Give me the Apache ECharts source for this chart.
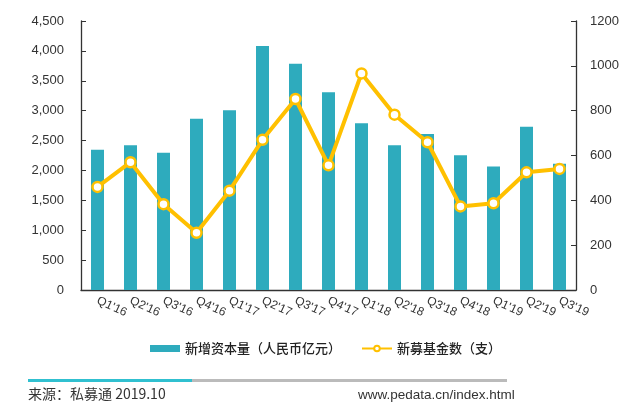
<!DOCTYPE html>
<html><head><meta charset="utf-8">
<script src="https://cdn.jsdelivr.net/npm/echarts@6/dist/echarts.min.js"></script>
<style>html,body{margin:0;padding:0;background:#fff}#c{width:638px;height:415px}</style>
</head><body><div id="c"></div>
<script>
const categories = ["Q1'16","Q2'16","Q3'16","Q4'16","Q1'17","Q2'17","Q3'17","Q4'17","Q1'18","Q2'18","Q3'18","Q4'18","Q1'19","Q2'19","Q3'19"];
const capitalValues = [2345, 2420, 2295, 2865, 3005, 4080, 3785, 3310, 2790, 2420, 2610, 2255, 2065, 2730, 2110];
const fundCounts = [460, 570, 383, 255, 443, 670, 852, 556, 966, 782, 659, 373, 387, 525, 540];
const leftTicks = {min: 0, max: 4500, interval: 500};
const rightTicks = {min: 0, max: 1200, interval: 200};
const seriesNames = ['新增资本量（人民币亿元）', '新募基金数（支）'];

const teal = '#2eabbd', gold = '#ffc000', axisC = '#333';
const chart = echarts.init(document.getElementById('c'), null, {renderer: 'canvas'});
const fontF = 'Liberation Sans, Arial, sans-serif';
chart.setOption({
  animation: false,
  grid: {left: 81, right: 62, top: 21, bottom: 125},
  legend: {
    top: 337, left: 145, itemGap: 20,
    textStyle: {fontFamily: 'Noto Sans CJK SC', fontSize: 13, color: '#222', fontWeight: 500},
    data: [
      {name: seriesNames[0], icon: 'rect', itemStyle: {color: teal}},
      {name: seriesNames[1]}
    ],
    itemWidth: 30, itemHeight: 7
  },
  xAxis: {
    type: 'category', data: categories,
    axisLine: {lineStyle: {color: axisC, width: 1.3}},
    axisTick: {inside: true, length: 5, lineStyle: {color: axisC}},
    axisLabel: {interval: 0, rotate: -25, color: '#333', fontSize: 12, fontFamily: fontF, margin: 10}
  },
  yAxis: [
    {type: 'value', min: leftTicks.min, max: leftTicks.max, interval: leftTicks.interval,
     splitLine: {show: false},
     axisLine: {show: true, lineStyle: {color: axisC, width: 1.3}},
     axisTick: {show: true, inside: true, length: 5, lineStyle: {color: axisC}},
     axisLabel: {color: '#333', fontSize: 13, fontFamily: fontF, margin: 17,
       formatter: v => v.toLocaleString('en-US')}},
    {type: 'value', min: rightTicks.min, max: rightTicks.max, interval: rightTicks.interval,
     splitLine: {show: false},
     axisLine: {show: true, lineStyle: {color: axisC, width: 1.3}},
     axisTick: {show: true, inside: true, length: 5, lineStyle: {color: axisC}},
     axisLabel: {color: '#333', fontSize: 13, fontFamily: fontF, margin: 14,
       formatter: v => String(v)}}
  ],
  series: [
    {name: seriesNames[0], type: 'bar', data: capitalValues, barWidth: 13,
     itemStyle: {color: teal}},
    {name: seriesNames[1], type: 'line', yAxisIndex: 1, data: fundCounts,
     symbol: 'circle', symbolSize: 10,
     lineStyle: {color: gold, width: 4},
     itemStyle: {color: '#fff', borderColor: gold, borderWidth: 2.5}}
  ],
  graphic: [
    {type: 'rect', shape: {x: 28, y: 379, width: 164, height: 3}, style: {fill: '#30c0d0'}},
    {type: 'rect', shape: {x: 192, y: 379, width: 315, height: 3}, style: {fill: '#bbbbbb'}},
    {type: 'text', left: 28, top: 387, style: {text: '来源：私募通 2019.10', font: '14px "Noto Sans CJK SC"', fill: '#333'}},
    {type: 'text', left: 358, top: 388, style: {text: 'www.pedata.cn/index.html', font: '13.5px "Liberation Sans"', fill: '#333'}}
  ]
});
</script></body></html>
